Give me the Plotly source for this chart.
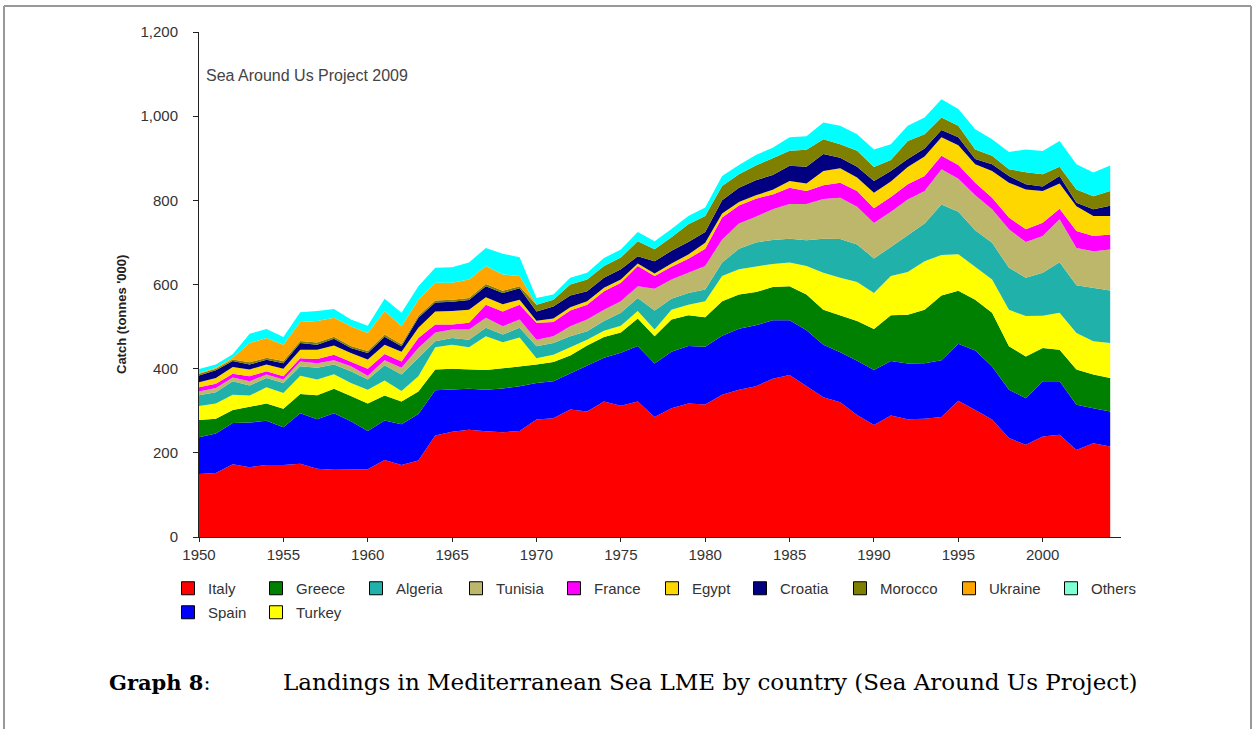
import plotly.graph_objects as go

years = list(range(1950, 2005))

# catch by country, tonnes '000
italy = [150, 152, 173, 166, 171, 171, 174, 162, 160, 160,
         161, 183, 171, 182, 241, 250, 255, 251, 249, 252,
         279, 282, 303, 298, 322, 312, 322, 285, 306, 317,
         315, 338, 350, 358, 376, 385, 358, 332, 320, 290,
         266, 289, 280, 281, 285, 324, 302, 279, 235, 219,
         239, 243, 207, 223, 215]
spain = [87, 94, 98, 106, 105, 90, 120, 118, 134, 115,
         91, 94, 97, 110, 108, 101, 97, 99, 104, 106,
         87, 88, 86, 109, 104, 126, 132, 127, 134, 137,
         137, 140, 145, 145, 139, 130, 133, 125, 119, 129,
         131, 129, 132, 132, 135, 135, 141, 126, 115, 111,
         131, 127, 107, 83, 83]
greece = [41, 35, 31, 37, 41, 44, 46, 57, 58, 60,
          65, 59, 54, 54, 49, 49, 47, 47, 48, 47,
          44, 46, 42, 48, 49, 48, 65, 65, 77, 73,
          70, 82, 81, 79, 79, 81, 85, 83, 88, 94,
          97, 109, 116, 127, 154, 126, 121, 128, 103, 99,
          79, 75, 84, 80, 80]
turkey = [33, 36, 36, 27, 39, 37, 43, 37, 35, 31,
          33, 36, 25, 36, 53, 57, 52, 80, 62, 69,
          15, 17, 20, 14, 15, 16, 18, 16, 23, 25,
          38, 60, 60, 60, 55, 56, 68, 88, 89, 93,
          86, 93, 102, 115, 96, 87, 78, 79, 87, 96,
          77, 88, 87, 79, 83]
algeria = [26, 27, 32, 24, 22, 24, 23, 28, 23, 28,
           24, 36, 39, 43, 14, 16, 18, 20, 18, 23,
           28, 28, 26, 20, 23, 31, 31, 45, 26, 28,
           28, 32, 49, 58, 57, 57, 61, 81, 92, 89,
           82, 69, 87, 90, 120, 101, 87, 87, 100, 91,
           102, 120, 113, 127, 125]
tunisia = [9, 10, 9, 10, 8, 8, 11, 11, 10, 12,
           9, 12, 16, 24, 21, 20, 24, 24, 20, 20,
           16, 16, 24, 28, 27, 27, 28, 52, 46, 48,
           56, 55, 60, 61, 73, 82, 86, 94, 98, 90,
           84, 84, 85, 77, 84, 78, 83, 80, 91, 85,
           87, 102, 89, 87, 97]
france = [10, 10, 9, 12, 8, 8, 8, 10, 13, 11,
          17, 15, 15, 24, 19, 12, 16, 31, 35, 35,
          40, 34, 37, 35, 44, 44, 48, 30, 30, 33,
          41, 52, 43, 43, 35, 39, 31, 33, 36, 37,
          35, 35, 36, 36, 32, 33, 30, 27, 28, 30,
          32, 25, 40, 36, 36]
egypt = [12, 14, 16, 16, 16, 18, 20, 22, 22, 20,
         22, 22, 23, 24, 31, 32, 31, 18, 17, 12,
         5, 8, 8, 8, 8, 8, 6, 6, 8, 10,
         14, 10, 8, 8, 11, 16, 18, 34, 34, 32,
         37, 37, 41, 46, 44, 47, 44, 64, 83, 95,
         75, 60, 59, 48, 44]
croatia = [16, 18, 14, 12, 11, 13, 16, 12, 16, 12,
           15, 19, 13, 24, 21, 22, 23, 26, 27, 27,
           22, 29, 28, 24, 24, 24, 17, 29, 30, 30,
           26, 31, 34, 36, 35, 36, 40, 40, 25, 26,
           28, 25, 19, 19, 17, 19, 12, 16, 16, 12,
           11, 18, 8, 16, 24]
morocco = [4, 4, 4, 5, 5, 5, 5, 5, 5, 5,
           5, 5, 5, 5, 5, 5, 5, 5, 5, 5,
           16, 16, 26, 28, 28, 28, 36, 29, 32, 42,
           38, 34, 32, 35, 40, 36, 40, 35, 32, 38,
           33, 26, 43, 34, 30, 27, 23, 20, 16, 29,
           29, 22, 32, 31, 35]
ukraine = [2, 2, 4, 46, 47, 39, 45, 51, 45, 47,
           43, 56, 43, 38, 42, 40, 44, 43, 39, 24,
           0, 0, 0, 0, 0, 0, 0, 0, 0, 0,
           0, 0, 0, 0, 0, 0, 0, 0, 0, 0,
           0, 0, 0, 0, 0, 0, 0, 0, 0, 0,
           0, 0, 0, 0, 0]
others = [9, 8, 8, 22, 21, 18, 23, 24, 21, 16,
          17, 29, 32, 32, 36, 37, 40, 43, 49, 45,
          16, 12, 16, 16, 19, 19, 22, 19, 20, 20,
          20, 24, 22, 25, 25, 32, 32, 40, 44, 39,
          42, 37, 36, 40, 43, 40, 48, 39, 41, 54,
          55, 61, 60, 56, 61]

# stacking order, bottom to top
stack = [
    ("Italy", italy, "#FF0000"),
    ("Spain", spain, "#0000FF"),
    ("Greece", greece, "#008000"),
    ("Turkey", turkey, "#FFFF00"),
    ("Algeria", algeria, "#20B2AA"),
    ("Tunisia", tunisia, "#BDB76B"),
    ("France", france, "#FF00FF"),
    ("Egypt", egypt, "#FFD700"),
    ("Croatia", croatia, "#000080"),
    ("Morocco", morocco, "#808000"),
    ("Ukraine", ukraine, "#FFA500"),
    ("Others", others, "#00FFFF"),
]

# legend rows as laid out in the original (name, swatch colour, entry width)
legend_row1 = [("Italy", "#FF0000", 43), ("Greece", "#008000", 55),
               ("Algeria", "#20B2AA", 55), ("Tunisia", "#BDB76B", 53),
               ("France", "#FF00FF", 53), ("Egypt", "#FFD700", 43),
               ("Croatia", "#000080", 55), ("Morocco", "#808000", 64),
               ("Ukraine", "#FFA500", 57), ("Others", "#7FFFD4", 50)]
legend_row2 = [("Spain", "#0000FF", 43), ("Turkey", "#FFFF00", 50)]

W, H = 1255, 729
L, T = 199, 32
PW, PH = 922, 505
R, B = W - L - PW, H - T - PH


def px(x):
    return (x - L) / PW


def py(y):
    return (T + PH - y) / PH


fig = go.Figure()

for name, vals, col in stack:
    fig.add_trace(go.Scatter(
        x=years, y=vals, name=name, mode="lines", stackgroup="one",
        line=dict(width=0, color=col), fillcolor=col, showlegend=False,
    ))

for row, leg in [(legend_row1, "legend"), (legend_row2, "legend2")]:
    for name, col, w in row:
        fig.add_trace(go.Scatter(
            x=[None], y=[None], mode="markers", name=name, legend=leg,
            legendwidth=w,
            marker=dict(symbol="square", size=13, color=col,
                        line=dict(color="black", width=1)),
        ))

font_chart = "Liberation Sans, Arial, sans-serif"

fig.add_annotation(
    text="Sea Around Us Project 2009", xref="paper", yref="paper",
    x=px(204), y=py(76), xanchor="left", yanchor="middle", showarrow=False,
    font=dict(family=font_chart, size=16, color="#444444"),
)
fig.add_annotation(
    text="<b>Catch (tonnes '000)</b>", xref="paper", yref="paper",
    x=px(121), y=py(315), xanchor="center", yanchor="middle", showarrow=False,
    textangle=-90, font=dict(family=font_chart, size=13, color="#222222"),
)
fig.add_annotation(
    text="<b>Graph 8</b>:", xref="paper", yref="paper",
    x=px(107), y=py(682), xanchor="left", yanchor="middle", showarrow=False,
    font=dict(family="DejaVu Serif, serif", size=21, color="black"),
)
fig.add_annotation(
    text="Landings in Mediterranean Sea LME by country (Sea Around Us Project)",
    xref="paper", yref="paper",
    x=px(281), y=py(682), xanchor="left", yanchor="middle", showarrow=False,
    font=dict(family="DejaVu Serif, serif", size=23, color="black"),
)

# page frame
frame = dict(type="line", xref="paper", yref="paper",
             line=dict(color="#999999", width=2))
fig.add_shape(**frame, x0=px(4), x1=px(1251), y0=py(6), y1=py(6))
fig.add_shape(**frame, x0=px(4), x1=px(4), y0=py(6), y1=py(740))
fig.add_shape(**frame, x0=px(1251), x1=px(1251), y0=py(6), y1=py(740))

legend_common = dict(
    orientation="h", xanchor="left", yanchor="top", x=px(168),
    traceorder="normal",
    font=dict(family=font_chart, size=15, color="#333333"),
    bgcolor="rgba(0,0,0,0)", itemclick=False,
)

fig.update_layout(
    width=W, height=H,
    margin=dict(l=L, r=R, t=T, b=B),
    paper_bgcolor="white", plot_bgcolor="white",
    showlegend=True,
    legend=dict(**legend_common, y=py(572)),
    legend2=dict(**legend_common, y=py(596)),
    xaxis=dict(
        range=[1950, 2004.64], tick0=1950, dtick=5, showgrid=False,
        zeroline=False, showline=True, linecolor="#222222", linewidth=1,
        ticks="outside", ticklen=4, tickcolor="#222222",
        tickfont=dict(family=font_chart, size=15, color="#333333"),
    ),
    yaxis=dict(
        range=[0, 1200], dtick=200, tickformat=",", showgrid=False,
        zeroline=False, showline=True, linecolor="#222222", linewidth=1,
        ticks="outside", ticklen=5, tickcolor="#222222", ticklabelstandoff=12,
        tickfont=dict(family=font_chart, size=15, color="#333333"),
    ),
)

# drop the default page margin so the figure sits at the window origin
fig.write_html(
    "out.html",
    config={"displayModeBar": False},
    post_script="document.body.style.margin = '0';",
)
